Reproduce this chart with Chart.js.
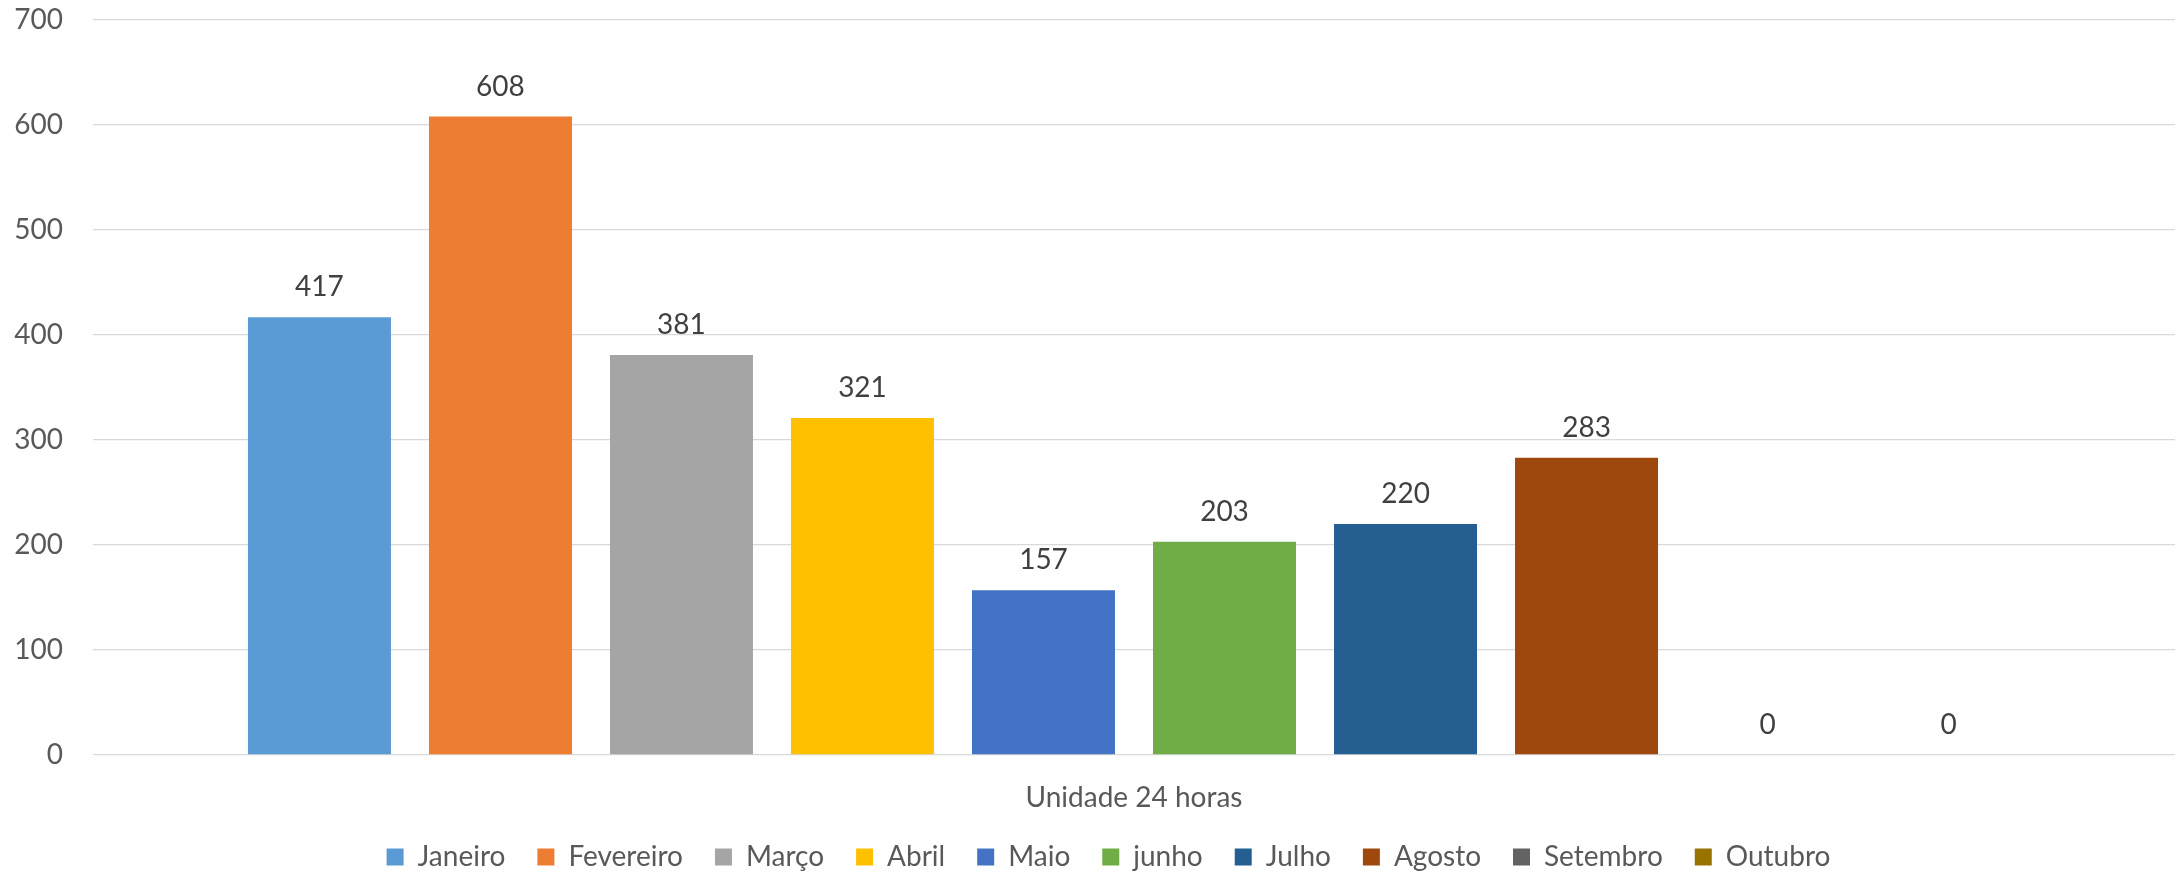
<!DOCTYPE html>
<html>
<head>
<meta charset="utf-8">
<script src="https://cdn.jsdelivr.net/npm/chart.js@4"></script>
<style>
  body { margin: 0; background: #fff; }
  #wrap { width: 2178px; height: 874px; }
</style>
</head>
<body>
<div id="wrap"><canvas id="barChart"></canvas></div>
<script>
const categories = ["Unidade 24 horas"];
const months = ["Janeiro", "Fevereiro", "Março", "Abril", "Maio", "junho", "Julho", "Agosto", "Setembro", "Outubro"];
const values = [417, 608, 381, 321, 157, 203, 220, 283, 0, 0];
const colors = ["#5B9BD5", "#ED7D31", "#A5A5A5", "#FFC000", "#4472C4", "#70AD47", "#255E91", "#9E480E", "#636363", "#997300"];
const yTicks = [0, 100, 200, 300, 400, 500, 600, 700];

const font = "Lato, 'Open Sans', sans-serif";

// value labels above each bar
const valueLabels = {
    id: "valueLabels",
    afterDatasetsDraw(chart) {
        const ctx = chart.ctx;
        ctx.save();
        ctx.font = "28px " + font;
        ctx.fillStyle = "#404040";
        ctx.textAlign = "center";
        ctx.textBaseline = "middle";
        chart.data.datasets.forEach((ds, i) => {
            chart.getDatasetMeta(i).data.forEach((bar, j) => {
                ctx.fillText(String(ds.data[j]), bar.x, bar.y - 30);
            });
        });
        ctx.restore();
    },
};

// nudge the legend a bit to the right, like the original
const legendShift = {
    id: "legendShift",
    afterLayout(chart) {
        chart.legend.left += 21;
        chart.legend.right += 21;
    },
};

const datasets = months.map((m, i) => ({
    label: m,
    data: [values[i]],
    backgroundColor: colors[i],
    borderWidth: 0,
    categoryPercentage: 0.8694,
    barPercentage: 0.79,
}));

const ctx = document.getElementById("barChart").getContext("2d");
const barChart = new Chart(ctx, {
    type: "bar",
    data: { labels: categories, datasets: datasets },
    options: {
        responsive: true,
        maintainAspectRatio: false,
        animation: false,
        layout: { padding: { top: 20, right: 3, left: 0, bottom: -7 } },
        plugins: {
            tooltip: { enabled: false },
            legend: {
                position: "bottom",
                labels: {
                    boxWidth: 17,
                    boxHeight: 17,
                    padding: 32,
                    color: "#595959",
                    font: { family: font, size: 28 },
                },
            },
        },
        scales: {
            x: {
                grid: { display: false },
                border: { display: false },
                ticks: { color: "#595959", padding: 18, font: { family: font, size: 28 } },
                afterFit: (s) => { s.height = 56; s.paddingLeft = 0; s.paddingRight = 0; },
            },
            y: {
                min: yTicks[0],
                max: yTicks[yTicks.length - 1],
                grid: { color: "#d9d9d9", lineWidth: 1.3, drawTicks: false },
                border: { display: false },
                afterBuildTicks: (s) => { s.ticks = yTicks.map((v) => ({ value: v })); },
                ticks: { color: "#595959", padding: 30, font: { family: font, size: 28 } },
                afterFit: (s) => { s.width = 93; s.paddingTop = 0; s.paddingBottom = 0; },
            },
        },
    },
    plugins: [valueLabels, legendShift],
});
</script>
</body>
</html>
